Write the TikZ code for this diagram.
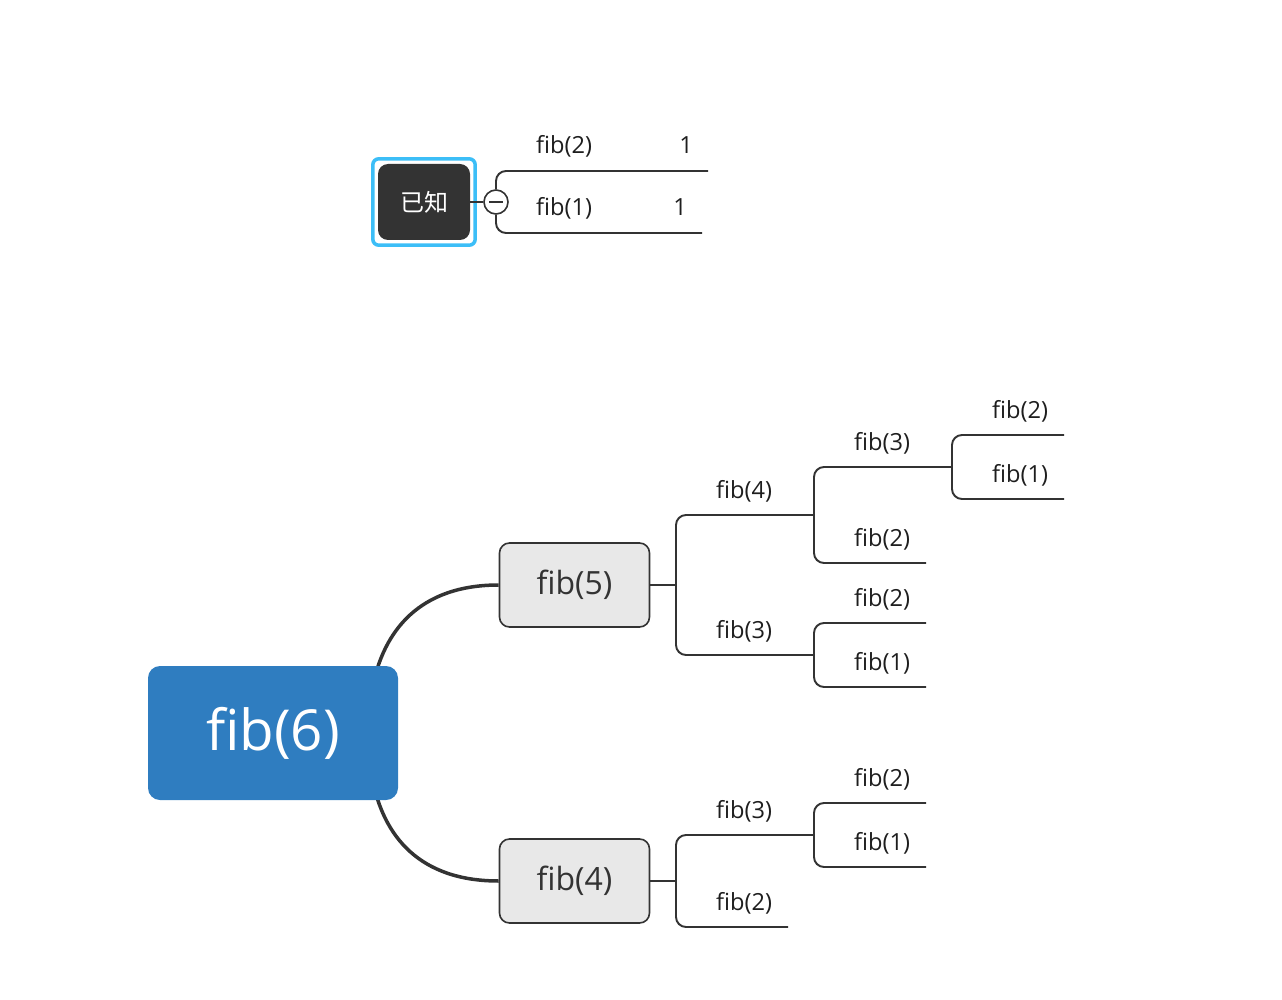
\documentclass[tikz,border=0pt]{standalone}
\usepackage{fontspec}
\setmainfont{Open Sans}
\newfontfamily\cjk{Noto Sans CJK SC}
\usepackage{xcolor}
\usetikzlibrary{calc}
\definecolor{ink}{HTML}{333333}
\definecolor{labelink}{HTML}{1E1E1E}
\definecolor{rootblue}{HTML}{2F7DC0}
\definecolor{selblue}{HTML}{3CBEF7}
\definecolor{topicgray}{HTML}{E8E8E8}

\begin{document}
\begin{tikzpicture}[
  x=1pt,y=-1pt,
  root/.style={fill=rootblue,rounded corners=12pt,minimum width=250pt,minimum height=134pt,
    inner sep=0pt,text=white,font=\fontsize{56.5}{60}\selectfont},
  topic/.style={draw=ink,line width=1.6pt,fill=topicgray,rounded corners=10pt,minimum width=150pt,
    minimum height=84pt,inner sep=0pt,text=ink,font=\fontsize{32}{36}\selectfont},
  known/.style={fill=ink,rounded corners=10pt,minimum width=92pt,minimum height=76pt,
    inner sep=0pt,text=white,font=\cjk\fontsize{24}{28}\selectfont},
  lbl/.style={anchor=base west,inner sep=0pt,text=labelink,font=\fontsize{23.6}{28}\selectfont},
  val/.style={lbl,anchor=base east},
  branch/.style={draw=ink,line width=1.9pt,rounded corners=10pt},
  trunk/.style={draw=ink,line width=3.5pt}
]
\useasboundingbox (0,0) rectangle (1282,1000);

% known values
\node[known] (known) at (424,202) {已知};
\draw[selblue,line width=3.5pt,rounded corners=6pt]
  ($(known.north west)+(-5,-5)$) rectangle ($(known.south east)+(5,5)$);
\node[circle,draw=ink,line width=1.6pt,fill=white,minimum size=24pt,inner sep=0pt] (fold) at (496,202) {};
\draw[ink,line width=1.6pt] ($(fold.center)+(-7,0)$) -- ($(fold.center)+(7,0)$);
\draw[branch] (known.east) -- (fold.west);
\coordinate (k2) at (708,171);
\coordinate (k1) at (702,233);
\draw[branch] (k2) -| (fold.north);
\draw[branch] (k1) -| (fold.south);
\node[lbl] (k2l) at (536,154) {fib(2)};
\node[val] (k2v) at (693,154) {1};
\node[lbl] (k1l) at (536,216) {fib(1)};
\node[val] (k1v) at (687,216) {1};

% main tree
\node[topic] (p5) at (574.5,585) {fib(5)};
\node[topic] (p4) at (574.5,881) {fib(4)};
\draw[trunk] (372,690) .. controls (383,630) and (420,585) .. (p5.west);
\draw[trunk] (372,777) .. controls (383,837) and (420,881) .. (p4.west);
\node[root] (p6) at (273,733) {fib(6)};

% fib(5) subtree
\coordinate (ka) at (676,585);
\coordinate (a4) at (814,515);
\coordinate (a3) at (814,655);
\coordinate (b3) at (952,467);
\coordinate (b2) at (926,563);
\coordinate (c2) at (1064,435);
\coordinate (c1) at (1064,499);
\coordinate (d2) at (926,623);
\coordinate (d1) at (926,687);
\draw[branch] (p5.east) -- (ka);
\draw[branch] (a4) -| (ka) |- (a3);
\draw[branch] (b3) -| (a4) |- (b2);
\draw[branch] (c2) -| (b3) |- (c1);
\draw[branch] (d2) -| (a3) |- (d1);
\node[lbl] (a4l) at (716,498) {fib(4)};
\node[lbl] (a3l) at (716,638) {fib(3)};
\node[lbl] (b3l) at (854,450) {fib(3)};
\node[lbl] (b2l) at (854,546) {fib(2)};
\node[lbl] (c2l) at (992,418) {fib(2)};
\node[lbl] (c1l) at (992,482) {fib(1)};
\node[lbl] (d2l) at (854,606) {fib(2)};
\node[lbl] (d1l) at (854,670) {fib(1)};

% fib(4) subtree
\coordinate (ke) at (676,881);
\coordinate (e3) at (814,835);
\coordinate (e2) at (788,927);
\coordinate (f2) at (926,803);
\coordinate (f1) at (926,867);
\draw[branch] (p4.east) -- (ke);
\draw[branch] (e3) -| (ke) |- (e2);
\draw[branch] (f2) -| (e3) |- (f1);
\node[lbl] (e3l) at (716,818) {fib(3)};
\node[lbl] (e2l) at (716,910) {fib(2)};
\node[lbl] (f2l) at (854,786) {fib(2)};
\node[lbl] (f1l) at (854,850) {fib(1)};
\end{tikzpicture}
\end{document}
